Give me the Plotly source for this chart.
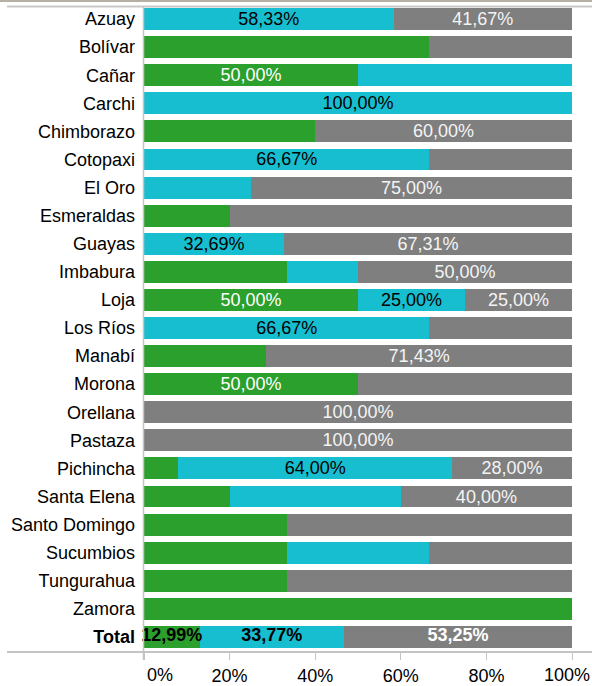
import plotly.graph_objects as go

provinces = ["Azuay", "Bolívar", "Cañar", "Carchi", "Chimborazo", "Cotopaxi", "El Oro",
             "Esmeraldas", "Guayas", "Imbabura", "Loja", "Los Ríos", "Manabí", "Morona",
             "Orellana", "Pastaza", "Pichincha", "Santa Elena", "Santo Domingo",
             "Sucumbios", "Tungurahua", "Zamora", "Total"]
green = [0, 66.67, 50, 0, 40, 0, 0, 20, 0, 33.33, 50, 0, 28.57, 50, 0, 0, 8, 20,
         33.33, 33.33, 33.33, 100, 12.99]
cyan = [58.33, 0, 50, 100, 0, 66.67, 25, 0, 32.69, 16.67, 25, 66.67, 0, 0, 0, 0, 64, 40,
        0, 33.33, 0, 0, 33.77]
grey = [41.67, 33.33, 0, 0, 60, 33.33, 75, 80, 67.31, 50, 25, 33.33, 71.43, 50, 100, 100,
        28, 40, 66.67, 33.33, 66.67, 0, 53.25]
green_labeled = ["Cañar", "Loja", "Morona", "Total"]
cyan_labeled = ["Azuay", "Carchi", "Cotopaxi", "Guayas", "Loja", "Los Ríos", "Pichincha", "Total"]
grey_labeled = ["Azuay", "Chimborazo", "El Oro", "Guayas", "Imbabura", "Loja", "Manabí",
                "Orellana", "Pastaza", "Pichincha", "Santa Elena", "Total"]
tick_vals = [0, 20, 40, 60, 80, 100]
tick_text = ["0%", "20%", "40%", "60%", "80%", "100%"]

FONT = "Liberation Sans, Arial, sans-serif"
FS = 18
TOTAL = "Total"


def fmt(v):
    return f"{v:.2f}".replace(".", ",") + "%"


def labels(vals, shown):
    return [fmt(v) if (p in shown and p != TOTAL) else "" for p, v in zip(provinces, vals)]


fig = go.Figure()
series = [
    (green, green_labeled, "#2ca02c", "#ffffff"),
    (cyan, cyan_labeled, "#17becf", "#000000"),
    (grey, grey_labeled, "#7f7f7f", "#f4f4f4"),
]
for vals, shown, col, tcol in series:
    tf = dict(family=FONT, size=FS, color=tcol)
    fig.add_trace(go.Bar(
        y=provinces, x=vals, orientation="h",
        marker=dict(color=col, line=dict(width=0)),
        text=labels(vals, shown), textposition="inside", insidetextanchor="middle",
        textangle=0, constraintext="none",
        textfont=tf, insidetextfont=tf,
        hoverinfo="skip", showlegend=False, cliponaxis=False,
    ))

# Bold labels of the Total row, centred on each stacked segment
ti = provinces.index(TOTAL)
tot_vals = [green[ti], cyan[ti], grey[ti]]
tot_mid = []
acc = 0
for v in tot_vals:
    tot_mid.append(acc + v / 2)
    acc += v
fig.add_trace(go.Scatter(
    x=tot_mid, y=[TOTAL] * 3, mode="text",
    text=[f"<b>{fmt(v)}</b>" for v in tot_vals],
    textposition="middle center",
    textfont=dict(family=FONT, size=FS, color=["#000000", "#000000", "#ffffff"]),
    hoverinfo="skip", showlegend=False, cliponaxis=False,
))

ytext = [f"<b>{p}</b>" if p == TOTAL else p for p in provinces]

fig.update_layout(
    barmode="stack", bargap=0.22,
    width=592, height=686,
    margin=dict(l=144, r=20, t=5, b=35, autoexpand=False),
    plot_bgcolor="white", paper_bgcolor="white",
    font=dict(family=FONT, size=FS, color="#000000"),
    uniformtext=dict(mode="show", minsize=FS),
    xaxis=dict(range=[0, 100], tickvals=tick_vals,
               ticktext=["", "20%", "40%", "60%", "80%", ""],
               ticks="outside", ticklen=8, tickcolor="#c4c4c4", tickwidth=1,
               showgrid=False, zeroline=False, showline=False,
               tickfont=dict(size=FS, color="#000000"), automargin=False),
    yaxis=dict(categoryorder="array", categoryarray=provinces,
               tickvals=provinces, ticktext=ytext,
               range=[len(provinces) - 0.5, -0.5], autorange=False,
               showgrid=False, zeroline=False, showline=False, ticks="",
               ticklabelstandoff=8, tickfont=dict(size=FS, color="#000000"),
               automargin=False),
    shapes=[
        dict(type="line", xref="paper", yref="paper", x0=-144 / 428, x1=448 / 428,
             y0=1 + 4 / 646, y1=1 + 4 / 646, line=dict(color="#b5b0a3", width=2)),
        dict(type="line", xref="paper", yref="paper", x0=-137 / 428, x1=448 / 428,
             y0=1 - 1.5 / 646, y1=1 - 1.5 / 646, line=dict(color="#c8c8c8", width=2)),
        dict(type="line", xref="paper", yref="paper", x0=-137 / 428, x1=448 / 428,
             y0=-1 / 646, y1=-1 / 646, line=dict(color="#c4c4c4", width=2)),
        dict(type="line", xref="paper", yref="paper", x0=-0.5 / 428, x1=-0.5 / 428,
             y0=-9 / 646, y1=1 - 1.5 / 646, line=dict(color="#c4c4c4", width=1.5)),
    ],
    annotations=[
        dict(x=tick_vals[0], y=0, xref="x", yref="paper", text=tick_text[0],
             showarrow=False, xanchor="center", yanchor="top", xshift=16, yshift=-12,
             font=dict(size=FS, color="#000000")),
        dict(x=tick_vals[-1], y=0, xref="x", yref="paper", text=tick_text[-1],
             showarrow=False, xanchor="center", yanchor="top", xshift=-5, yshift=-12,
             font=dict(size=FS, color="#000000")),
    ],
)

fig.write_html("out.html", config={"displayModeBar": False},
               post_script="document.body.style.margin='0';"
               "document.body.style.overflow='hidden';")
